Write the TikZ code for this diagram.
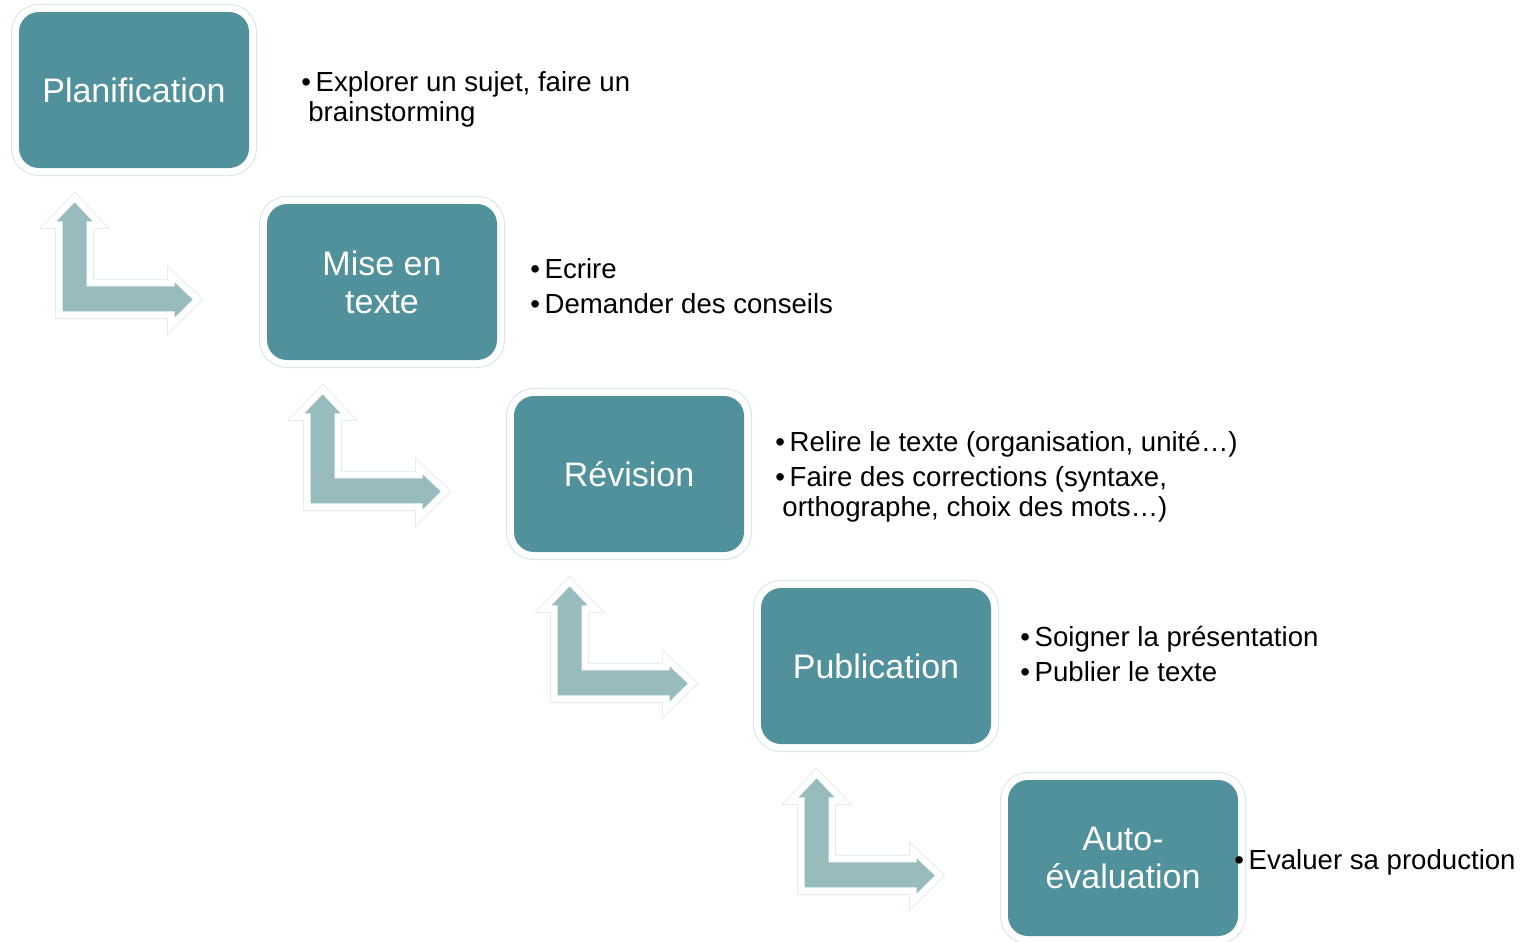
\documentclass[tikz,border=0pt]{standalone}
\usepackage{fontspec}
\setmainfont{Liberation Sans}

\definecolor{stageteal}{RGB}{80,145,155}
\definecolor{arrowteal}{RGB}{152,187,189}
\definecolor{rimgray}{RGB}{214,228,232}

\begin{document}
\begin{tikzpicture}
	[%
	x=0.5pt, y=-0.5pt,%
	stage/.style={rectangle, rounded corners=10pt, fill=stageteal, text=white, inner sep=0pt,%
		minimum width=115pt, minimum height=78pt, align=center, font=\fontsize{17}{19}\selectfont,%
		preaction={draw=rimgray, line width=8pt}, preaction={draw=white, line width=7pt}},%
	bentarrow/.style={fill=arrowteal, line join=miter,%
		preaction={draw=rimgray!70, line width=7.5pt}, preaction={draw=white, line width=6.5pt}},%
	desc/.style={anchor=west, inner sep=0pt, align=left, font=\fontsize{13.8}{15}\selectfont},%
	]

	\useasboundingbox (0,0) rectangle (1521,942);

	% stages
	\foreach \n/\x/\y/\txt in {1/134/90/{Planification}, 2/382/282/{Mise en\\texte},%
											3/629/474/{Révision}, 4/876/666/{Publication},%
											5/1123/858/{Auto-\\évaluation}}
		\node (p\n) at (\x,\y) [stage] {\txt};

	% bent arrows between stages
	\foreach \k in {1,...,4}
	{
		\begin{scope}[shift={(p\k.south west)}]
			\path [bentarrow] (44,143) -- (156,143) -- (156,149) -- (174,131) -- (156,114) -- (156,118)
				-- (68,118) -- (68,53) -- (74,53) -- (56,34) -- (38,53) -- (44,53) -- cycle;
		\end{scope}
	}

	% descriptions
	\node (d1) at (301,99) [desc] {\textbullet\,Explorer un sujet, faire un\\\hspace*{3.5pt}brainstorming};
	\node (d2) at (530,286) [desc] {\textbullet\,Ecrire\\[2.5pt]\textbullet\,Demander des conseils};
	\node (d3) at (775,477) [desc] {\textbullet\,Relire le texte (organisation, unité…)\\[2.5pt]%
		\textbullet\,Faire des corrections (syntaxe,\\\hspace*{3.5pt}orthographe, choix des mots…)};
	\node (d4) at (1020,654) [desc] {\textbullet\,Soigner la présentation\\[2.5pt]\textbullet\,Publier le texte};
	\node (d5) at (1234,862) [desc] {\textbullet\,Evaluer sa production};

\end{tikzpicture}
\end{document}
